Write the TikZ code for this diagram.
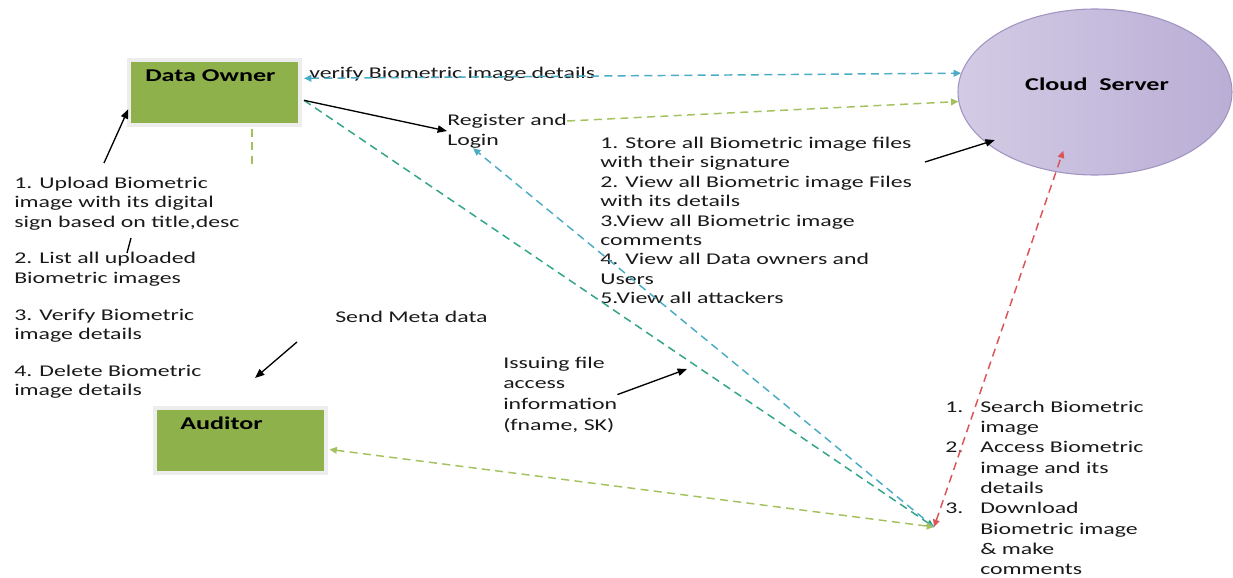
\documentclass[tikz,border=0pt]{standalone}
\usepackage{fontspec}
\setmainfont[FakeStretch=1.45]{Carlito}
\usepackage{tikz}
\usetikzlibrary{shapes.geometric,arrows.meta,positioning,calc}
\definecolor{OwnerGreen}{HTML}{8EB14C}
\definecolor{LinkCyan}{HTML}{4BACC6}
\definecolor{LinkLime}{HTML}{A3C25F}
\definecolor{LinkTeal}{HTML}{31A489}
\definecolor{TipGreen}{HTML}{1E9A4C}
\definecolor{LinkRed}{HTML}{DB5457}
\definecolor{CloudLo}{HTML}{D3CBE5}
\definecolor{CloudHi}{HTML}{BAAED5}
\definecolor{CloudRim}{HTML}{A194C0}
\definecolor{TextInk}{HTML}{1A1A1A}

\begin{document}
\begin{tikzpicture}[x=0.75pt, y=-0.75pt,
  actor/.style={draw=black!7, line width=3pt, fill=OwnerGreen, minimum width=128.25pt, minimum height=48.75pt, inner sep=0pt, outer sep=3pt},
  server/.style={ellipse, draw=CloudRim, line width=0.8pt, left color=CloudLo, right color=CloudHi, minimum width=205.5pt, minimum height=124.5pt, inner sep=0pt},
  lbl/.style={font=\fontsize{13.5}{16}\selectfont\bfseries, text=black, inner sep=0pt},
  txt/.style={font=\fontsize{12.3}{14.6}\selectfont, text=TextInk, inner sep=0pt, align=left},
  dashlink/.style={line width=1.1pt, dash pattern=on 6pt off 4pt},
  tipa/.style={-{Triangle[length=5.5pt,width=5pt]}},
  tipb/.style={{Triangle[length=5.5pt,width=5pt]}-{Triangle[length=5.5pt,width=5pt]}},
  blkarrow/.style={black, line width=1pt, -{Triangle[length=7pt,width=5.5pt]}}]

\fill[white] (0,0) rectangle (1233,578);
\useasboundingbox (0,0) rectangle (1233,578);

% actors
\node[actor] (owner) at (214.5,92.5) {};
\node[lbl, anchor=west] (ownerlbl) at (145,76) {Data Owner};
\node[actor] (auditor) at (240,440) {};
\node[lbl, anchor=west] (auditorlbl) at (180,423) {Auditor};
\node[server] (cloud) at (1095,92) {};
\node[lbl] (cloudlbl) at (1097,84) {Cloud\ \ Server};

% texts
\node[txt, anchor=west] (verify) at (309,74) {verify Biometric image details};
\node[txt, anchor=west] (reg) at (447,121) {Register and};
\node[txt, anchor=west] (login) at (447,141) {Login};
\node[txt, anchor=north west] (store) at (600,136.5) {1. Store all Biometric image files\\with their signature\\2. View all Biometric image Files\\with its details\\3.View all Biometric image\\comments\\4. View all Data owners and\\Users\\5.View all attackers};
\node[txt, anchor=north west] (owneracts) at (14,176.5) {1. Upload Biometric\\image with its digital\\sign based on title,desc\\[13pt]2. List all uploaded\\Biometric images\\[13pt]3. Verify Biometric\\image details\\[13pt]4. Delete Biometric\\image details};
\node[txt, anchor=west] (meta) at (335,317) {Send Meta data};
\node[txt, anchor=north west, font=\fontsize{12.3}{15.5}\selectfont] (issue) at (503,356.5) {Issuing file\\access\\information\\(fname, SK)};
\node[txt, anchor=north west, font=\fontsize{12.3}{15.2}\selectfont] (useracts) at (945,398) {%
  \begin{tabular}{@{}p{26.25pt}@{}l@{}}
  1. & Search Biometric\\
     & image\\
  2. & Access Biometric\\
     & image and its\\
     & details\\
  3. & Download\\
     & Biometric image\\
     & \& make\\
     & comments
  \end{tabular}};

% free ends
\coordinate (user) at (934,527);
\coordinate (upfoot) at (104,163);
\coordinate (metafoot) at (297,342);
\coordinate (metatip) at (255,378);
\coordinate (issuetip) at (687,369);
\coordinate (storefoot) at (925,162);
\coordinate (stub) at (252,167);

% dashed links
\draw[dashlink, LinkCyan, tipb] (owner.9) -- (cloud.172);
\draw[dashlink, LinkLime, tipa] (reg.east) -- (cloud.184);
\draw[dashlink, LinkLime] (owner.south -| stub) -- (stub);
\draw[dashlink, LinkTeal, -{Triangle[length=5.5pt,width=5pt,color=TipGreen]}] (owner.-5) -- (user);
\draw[dashlink, LinkCyan, tipa] (user) -- (login.south);
\draw[dashlink, LinkLime, tipb] (auditor.-6) -- (user);
\draw[dashlink, LinkRed, tipb, shorten >=-17pt] (user) -- (cloud.244);

% black arrows
\draw[blkarrow] (owner.-5) -- ($(reg.south west)!0.5!(login.north west)$);
\draw[blkarrow, shorten >=-6pt] (upfoot) -- (owner.195);
\draw[black, line width=1pt] (127,253) -- (131,238);
\draw[blkarrow] (metafoot) -- (metatip);
\draw[blkarrow] (issue.east) -- (issuetip);
\draw[blkarrow, shorten >=-7pt] (storefoot) -- (cloud.205);
\end{tikzpicture}
\end{document}
